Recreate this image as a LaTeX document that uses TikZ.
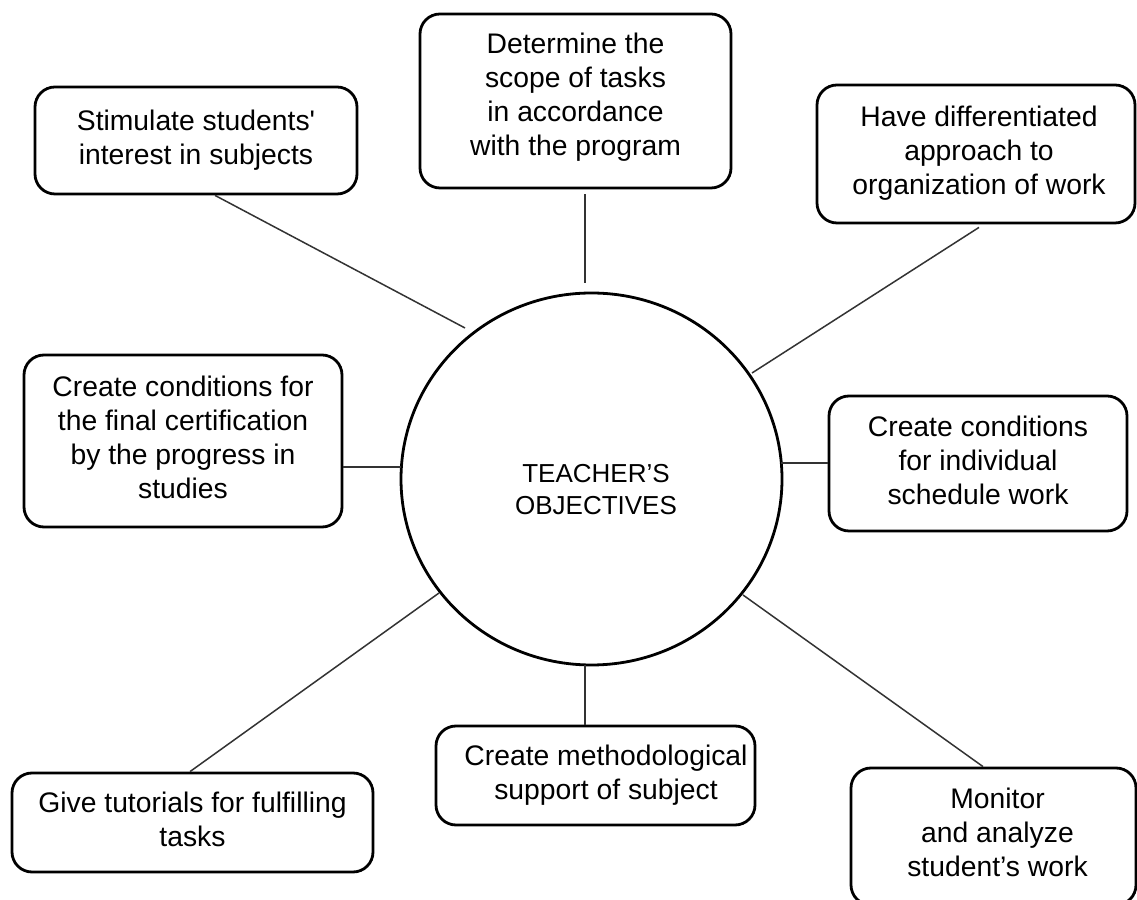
\documentclass[tikz,border=0pt]{standalone}
\usepackage{fontspec}
\setmainfont{Liberation Sans}
\usetikzlibrary{calc,shapes.geometric}
\newcommand\boxlines[1]{\begin{tabular}{@{}c@{}}#1\end{tabular}}
\tikzset{
  objbox/.style={draw=black, line width=2.8pt, rounded corners=20pt, inner sep=0pt,
    font=\fontsize{28.3}{34}\selectfont, align=center},
  hub/.style={draw=black, ellipse, line width=2.8pt, inner sep=0pt, outer sep=0pt,
    minimum width=381pt, minimum height=372pt, font=\fontsize{26}{32}\selectfont},
  link/.style={draw=black!80, line width=1.5pt}
}
\begin{document}
\begin{tikzpicture}[x=1pt,y=1pt]
\useasboundingbox (0,0) rectangle (1137,899);
\clip (0,0) rectangle (1137,899);
\fill[white] (0,0) rectangle (1137,899);

\node[hub] (c) at (591.5,420) {\hspace*{9pt}\raisebox{-13pt}[\height][\depth]{\boxlines{TEACHER’S\\OBJECTIVES}}};

\node[objbox, minimum width=322pt, minimum height=107pt] (b1) at (196,758.5)
  {\boxlines{Stimulate students\textquotesingle\\interest in subjects}};
\node[objbox, minimum width=311pt, minimum height=174pt] (b2) at (575.5,798)
  {\raisebox{3pt}[\height][\depth]{\boxlines{Determine the\\scope of tasks\\in accordance\\with the program}}};
\node[objbox, minimum width=318pt, minimum height=138pt] (b3) at (976,745)
  {\hspace*{6pt}\boxlines{Have differentiated\\approach to\\organization of work}};
\node[objbox, minimum width=318pt, minimum height=172pt] (b4) at (183,458)
  {\boxlines{Create conditions for\\the final certification\\by the progress in\\studies}};
\node[objbox, minimum width=298pt, minimum height=135pt] (b5) at (978,435.5)
  {\boxlines{Create conditions\\for individual\\schedule work}};
\node[objbox, minimum width=361pt, minimum height=99pt] (b6) at (192.5,76.5)
  {\boxlines{Give tutorials for fulfilling\\tasks}};
\node[objbox, minimum width=319pt, minimum height=99pt] (b7) at (595.5,123.5)
  {\hspace*{21pt}\boxlines{Create methodological\\support of subject}};
\node[objbox, minimum width=285pt, minimum height=137pt] (b8) at (993.5,62.5)
  {\hspace*{8pt}\raisebox{1pt}[\height][\depth]{\boxlines{Monitor\\and analyze\\student’s work}}};

\draw[link] ($(b1.south)+(19,0)$) -- ($(c.center)+(-126.5,151)$);
\draw[link] ($(b2.south)+(9.5,-5)$) -- ($(c.center)+(-6.5,196)$);
\draw[link] ($(b3.south)+(3,-3)$) -- ($(c.center)+(160.5,106)$);
\draw[link] ($(b4.east)+(0,-26)$) -- ($(c.center)+(-191,12)$);
\draw[link] ($(c.center)+(189.5,16)$) -- ($(b5.west)+(0,0.5)$);
\draw[link] ($(b6.north)+(-2.5,0)$) -- ($(c.center)+(-152.5,-114)$);
\draw[link] ($(c.center)+(-6.5,-186)$) -- ($(b7.north)+(-10.5,0)$);
\draw[link] ($(b8.north)+(-10.5,0)$) -- ($(c.center)+(151.5,-116)$);
\end{tikzpicture}
\end{document}
